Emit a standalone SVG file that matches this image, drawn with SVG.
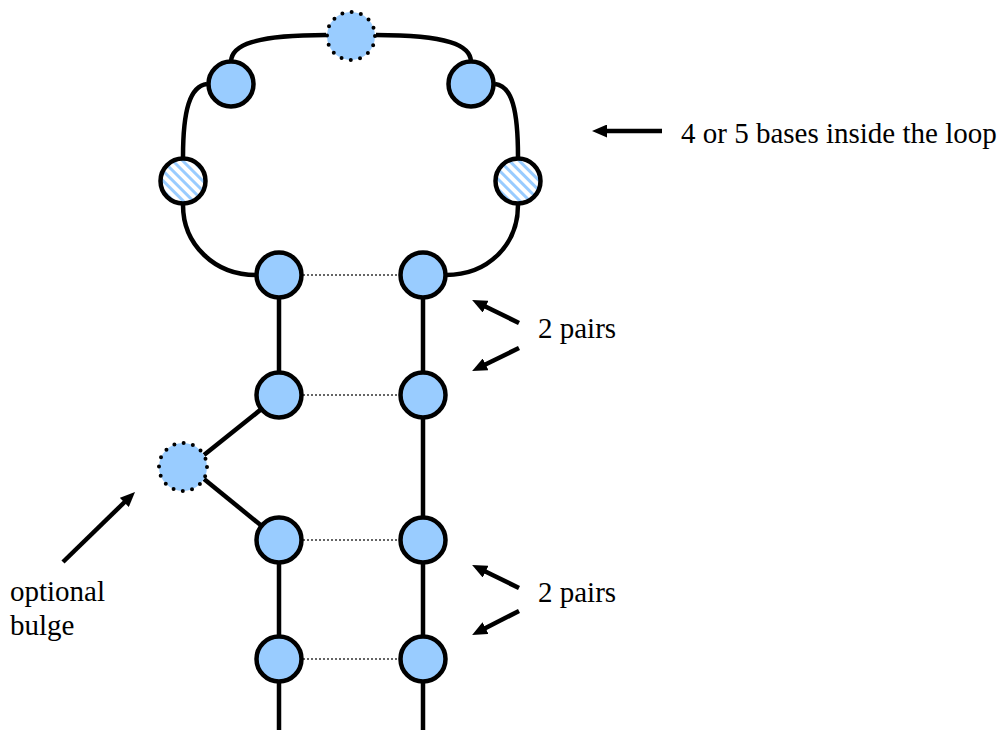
<svg xmlns="http://www.w3.org/2000/svg" width="1005" height="730" viewBox="0 0 1005 730">
<style>
.base{fill:#99ccff;stroke:#000;stroke-width:4.5}
.hatch{fill:url(#stripes);stroke:#000;stroke-width:4.5}
.opt{fill:#99ccff;stroke:#000;stroke-width:4;stroke-linecap:round;stroke-dasharray:0 9.42}
.bb{fill:none;stroke:#000;stroke-width:4.5}
.pair{fill:none;stroke:#333;stroke-width:1.5;stroke-dasharray:2 2}
.arr{fill:none;stroke:#000;stroke-width:4.5;marker-end:url(#ah)}
text{font-family:"Liberation Serif","Times New Roman",serif;font-size:29px;fill:#000}
</style>
<defs>
<pattern id="stripes" patternUnits="userSpaceOnUse" width="7" height="7" patternTransform="rotate(-45)">
<rect x="0" y="0" width="7" height="7" fill="#fff"/>
<rect x="0" y="0" width="3" height="7" fill="#99ccff"/>
</pattern>
<marker id="ah" markerUnits="userSpaceOnUse" viewBox="0 0 15 13" markerWidth="15" markerHeight="13" refX="2" refY="6.5" orient="auto">
<path d="M0,0 L15,6.5 L0,13 z" fill="#000"/>
</marker>
</defs>
<g id="connectors">
<path class="bb" d="M231,62 C231,45 255,35 326,35"/>
<path class="bb" d="M471,62 C471,45 447,35 376,35"/>
<path class="bb" d="M207,84 C190,86 183,110 183,157"/>
<path class="bb" d="M495,84 C512,86 518,110 518,157"/>
<path class="bb" d="M183,205 C183,245 215,275 256,275"/>
<path class="bb" d="M518,205 C518,245 488,275 446,275"/>
<line class="bb" x1="279" y1="275" x2="279" y2="395"/>
<line class="bb" x1="423" y1="275" x2="423" y2="395"/>
<line class="bb" x1="423" y1="395" x2="423" y2="540"/>
<line class="bb" x1="279" y1="540" x2="279" y2="659"/>
<line class="bb" x1="423" y1="540" x2="423" y2="659"/>
<line class="bb" x1="279" y1="659" x2="279" y2="732"/>
<line class="bb" x1="423" y1="659" x2="423" y2="732"/>
<line class="bb" x1="279" y1="395" x2="204" y2="455"/>
<line class="bb" x1="279" y1="540" x2="204" y2="479"/>
<line class="pair" x1="279" y1="275" x2="423" y2="275"/>
<line class="pair" x1="279" y1="395" x2="423" y2="395"/>
<line class="pair" x1="279" y1="540" x2="423" y2="540"/>
<line class="pair" x1="279" y1="659" x2="423" y2="659"/>
</g>
<g id="n-top"><circle class="opt" cx="351" cy="36" r="24"/></g>
<g id="n-tl"><circle class="base" cx="231" cy="84" r="22.5"/></g>
<g id="n-tr"><circle class="base" cx="471" cy="84" r="22.5"/></g>
<g id="n-hl"><circle class="hatch" cx="183" cy="181" r="22.5"/></g>
<g id="n-hr"><circle class="hatch" cx="518" cy="181" r="22.5"/></g>
<g id="n-l1"><circle class="base" cx="279" cy="275" r="22.5"/></g>
<g id="n-r1"><circle class="base" cx="423" cy="275" r="22.5"/></g>
<g id="n-l2"><circle class="base" cx="279" cy="395" r="22.5"/></g>
<g id="n-r2"><circle class="base" cx="423" cy="395" r="22.5"/></g>
<g id="n-bulge"><circle class="opt" cx="183" cy="467" r="24"/></g>
<g id="n-l3"><circle class="base" cx="279" cy="540" r="22.5"/></g>
<g id="n-r3"><circle class="base" cx="423" cy="540" r="22.5"/></g>
<g id="n-l4"><circle class="base" cx="279" cy="659" r="22.5"/></g>
<g id="n-r4"><circle class="base" cx="423" cy="659" r="22.5"/></g>
<g id="annotations">
<line class="arr" x1="662" y1="131" x2="605" y2="131"/>
<text x="681" y="143">4 or 5 bases inside the loop</text>
<line class="arr" x1="519" y1="323" x2="483.8" y2="305.8"/>
<line class="arr" x1="519" y1="348" x2="483.8" y2="365.2"/>
<text x="538" y="338">2 pairs</text>
<line class="arr" x1="519" y1="588" x2="483.8" y2="570.8"/>
<line class="arr" x1="519" y1="611" x2="483.7" y2="629"/>
<text x="538" y="602">2 pairs</text>
<line class="arr" x1="63" y1="562" x2="125.7" y2="501"/>
<text x="10" y="601">optional</text>
<text x="10" y="635">bulge</text>
</g>
</svg>
